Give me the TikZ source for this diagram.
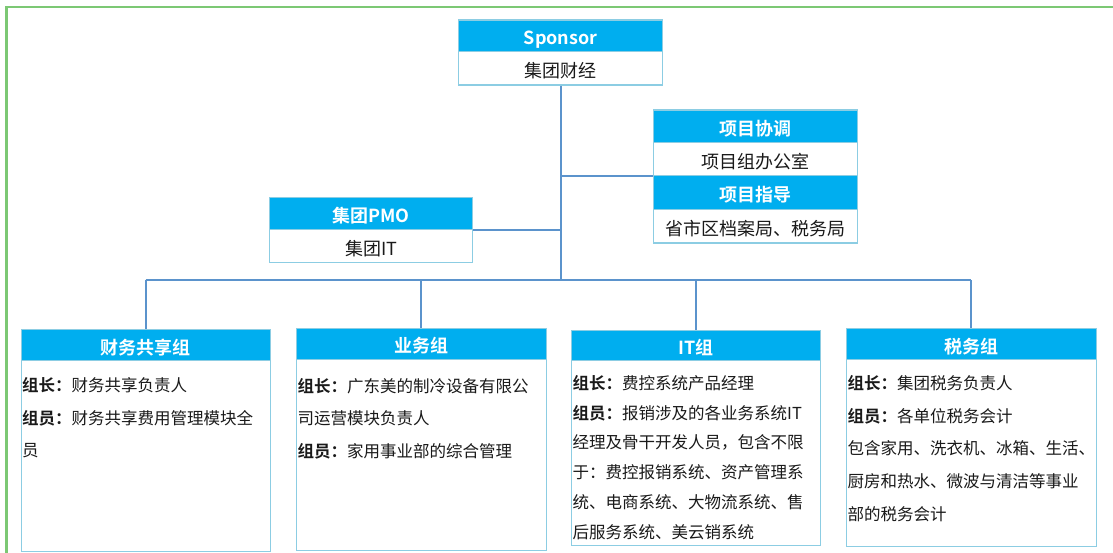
\documentclass[tikz,border=0pt]{standalone}
\usepackage{fontspec}
\setmainfont{Noto Sans CJK SC}[BoldFont={Noto Sans CJK SC Bold}]
\definecolor{hdrblue}{HTML}{00AEEF}
\definecolor{boxline}{HTML}{8CCDE3}
\definecolor{linkblue}{HTML}{5B93CC}
\definecolor{framegreen}{HTML}{7CC874}
\definecolor{textdark}{HTML}{1A1A1A}
\tikzset{
  hdr/.style={draw=boxline, fill=hdrblue, text=white, line width=1.2pt, anchor=north west, inner sep=0pt,
    text height=18pt, text depth=0pt, font=\fontsize{18}{20}\selectfont\bfseries},
  bodybox/.style={draw=boxline, fill=white, text=textdark, line width=1.2pt, anchor=north west, inner sep=0pt,
    text height=18pt, text depth=0pt, font=\fontsize{18}{20}\selectfont},
  conn/.style={draw=linkblue, line width=2.2pt},
  txtblock/.style={anchor=north west, inner sep=0pt, text=textdark, align=left, text width=248pt},
}
\begin{document}
\begin{tikzpicture}[x=1pt,y=-1pt]
\useasboundingbox (0,0) rectangle (1113,553);
\fill[white] (0,0) rectangle (1113,553);
\draw[framegreen, line width=2.2pt] (6.5,553) -- (6.5,7) -- (1113,7);

% top boxes
\node[hdr, minimum width=204, minimum height=31.5] (sph) at (458,19.5) {Sponsor};
\node[bodybox, minimum width=204, minimum height=33.5] (spb) at (458,51) {集团财经};

\node[hdr, minimum width=203, minimum height=32] (pmoh) at (269,197) {集团PMO};
\node[bodybox, minimum width=203, minimum height=33] (pmob) at (269,229) {集团IT};

\node[hdr, minimum width=204, minimum height=32.5] (xth) at (653,109.5) {项目协调};
\node[bodybox, minimum width=204, minimum height=33] (xtb) at (653,142) {项目组办公室};
\node[hdr, minimum width=204, minimum height=34] (zdh) at (653,175) {项目指导};
\node[bodybox, minimum width=204, minimum height=33.5] (zdb) at (653,209) {省市区档案局、税务局};

% bottom boxes
\node[hdr, minimum width=249, minimum height=31] (g1h) at (20.5,329) {财务共享组};
\node[bodybox, minimum width=249, minimum height=190.5] (g1b) at (20.5,360) {};
\node[hdr, minimum width=249.5, minimum height=30.5] (g2h) at (296,328) {业务组};
\node[bodybox, minimum width=249.5, minimum height=191.5] (g2b) at (296,358.5) {};
\node[hdr, minimum width=249, minimum height=30] (g3h) at (571,330) {IT组};
\node[bodybox, minimum width=249, minimum height=185] (g3b) at (571,360) {};
\node[hdr, minimum width=249.5, minimum height=31] (g4h) at (846,328) {税务组};
\node[bodybox, minimum width=249.5, minimum height=187] (g4b) at (846,359) {};

% connectors
\coordinate (bus) at (560,280);
\draw[conn] (spb.south) -- (spb.south |- bus);
\draw[conn] (pmoh.south east) -- (spb.south |- pmoh.south east);
\draw[conn] (xtb.south west) -- (spb.south |- xtb.south west);
\draw[conn] (g1h.north |- bus) -- (g4h.north |- bus);
\draw[conn] (g1h.north |- bus) -- (g1h.north);
\draw[conn] (g2h.north |- bus) -- (g2h.north);
\draw[conn] (g3h.north |- bus) -- (g3h.north);
\draw[conn] (g4h.north |- bus) -- (g4h.north);

% texts
\node[txtblock, font=\fontsize{16.5}{32.5}\selectfont] (t1) at (22,377.5) {\textbf{组长：}财务共享负责人\\\textbf{组员：}财务共享费用管理模块全\\员};
\node[txtblock, font=\fontsize{16.5}{32.5}\selectfont] (t2) at (297.5,378) {\textbf{组长：}广东美的制冷设备有限公\\司运营模块负责人\\\textbf{组员：}家用事业部的综合管理};
\node[txtblock, font=\fontsize{16.5}{29.8}\selectfont] (t3) at (572.5,375) {\textbf{组长：}费控系统产品经理\\\textbf{组员：}报销涉及的各业务系统IT\\经理及骨干开发人员，包含不限\\于：费控报销系统、资产管理系\\统、电商系统、大物流系统、售\\后服务系统、美云销系统};
\node[txtblock, font=\fontsize{16.5}{32.6}\selectfont] (t4) at (847.5,375.5) {\textbf{组长：}集团税务负责人\\\textbf{组员：}各单位税务会计\\包含家用、洗衣机、冰箱、生活、\\厨房和热水、微波与清洁等事业\\部的税务会计};
\end{tikzpicture}
\end{document}
